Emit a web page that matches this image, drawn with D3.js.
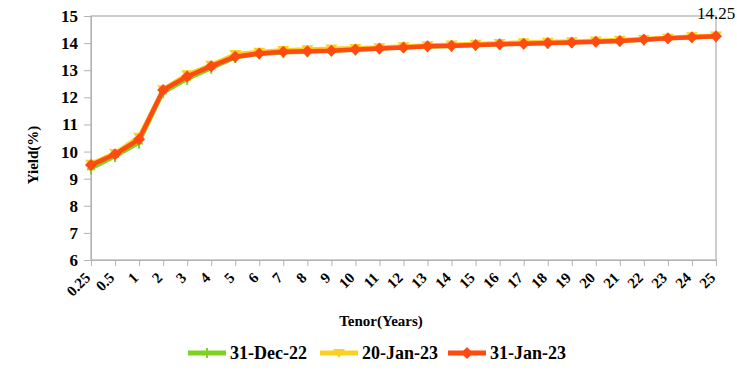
<!DOCTYPE html>
<html>
<head>
<meta charset="utf-8">
<script src="https://cdn.jsdelivr.net/npm/d3@7/dist/d3.min.js"></script>
<style>
  body { margin: 0; background: #fff; }
  svg text { font-family: "Liberation Serif", "Times New Roman", serif; font-weight: bold; fill: #000; }
</style>
</head>
<body>
<div id="chart"></div>
<script>
const tenors = ["0.25", "0.5", "1", "2", "3", "4", "5", "6", "7", "8", "9", "10", "11", "12",
  "13", "14", "15", "16", "17", "18", "19", "20", "21", "22", "23", "24", "25"];
const dec31 = [9.35, 9.8, 10.3, 12.15, 12.65, 13.05, 13.45, 13.58, 13.63, 13.66, 13.7, 13.73, 13.77,
  13.82, 13.85, 13.87, 13.9, 13.93, 13.96, 13.98, 14.0, 14.03, 14.06, 14.1, 14.15, 14.2, 14.22];
const jan20 = [9.55, 9.95, 10.55, 12.3, 12.85, 13.2, 13.6, 13.68, 13.75, 13.77, 13.8, 13.82, 13.85,
  13.88, 13.92, 13.95, 13.98, 14.0, 14.03, 14.05, 14.07, 14.1, 14.12, 14.15, 14.2, 14.25, 14.28];
const jan31 = [9.5, 9.9, 10.45, 12.27, 12.77, 13.15, 13.5, 13.62, 13.68, 13.7, 13.72, 13.76, 13.8,
  13.84, 13.88, 13.9, 13.93, 13.96, 13.98, 14.0, 14.02, 14.05, 14.08, 14.13, 14.18, 14.22, 14.25];
const yTicks = [6, 7, 8, 9, 10, 11, 12, 13, 14, 15];

const series = [
  { name: "31-Dec-22", values: dec31, color: "#7ed321", width: 3, marker: "plus" },
  { name: "20-Jan-23", values: jan20, color: "#fcd020", width: 4, marker: "tri" },
  { name: "31-Jan-23", values: jan31, color: "#ff4a12", width: 4.5, marker: "diamond" }
];

const W = 737, H = 390;
const margin = { top: 16, right: 21, bottom: 130, left: 91 };
const iw = W - margin.left - margin.right;
const ih = H - margin.top - margin.bottom;

const svg = d3.select("#chart").append("svg").attr("width", W).attr("height", H);
const g = svg.append("g").attr("transform", `translate(${margin.left},${margin.top})`);

const x = d3.scalePoint().domain(tenors).range([0, iw]).padding(0);
const y = d3.scaleLinear().domain([6, 15]).range([ih, 0]);

// plot frame
g.append("rect").attr("width", iw).attr("height", ih)
  .attr("fill", "none").attr("stroke", "#b3b3b3").attr("stroke-width", 1.3);

const yAxis = g.append("g").call(d3.axisLeft(y).tickValues(yTicks).tickSize(7).tickPadding(6));
yAxis.attr("font-family", null);
yAxis.select(".domain").attr("stroke", "#b3b3b3");
yAxis.selectAll(".tick line").attr("stroke", "#b3b3b3");
yAxis.selectAll("text").style("font-size", "17px");

const xAxis = g.append("g").attr("transform", `translate(0,${ih})`)
  .call(d3.axisBottom(x).tickSize(6).tickPadding(4));
xAxis.attr("font-family", null);
xAxis.select(".domain").attr("stroke", "#b3b3b3");
xAxis.selectAll(".tick line").attr("stroke", "#b3b3b3");
xAxis.selectAll("text").style("font-size", "15px")
  .attr("x", 0).attr("y", 0)
  .attr("text-anchor", "end").attr("dy", "0.35em")
  .attr("transform", "translate(-4,15) rotate(-45)");

// markers
function drawMarker(sel, type, color) {
  if (type === "diamond") {
    sel.append("path").attr("d", "M0,-6L6,0L0,6L-6,0Z").attr("fill", color);
  } else if (type === "tri") {
    sel.append("path").attr("d", "M-6,-4L6,-4L0,5Z").attr("fill", color);
  } else {
    sel.append("path").attr("d", "M-4,0H4M0,-5V5").attr("stroke", color).attr("stroke-width", 2);
  }
}

const line = d3.line().x((d, i) => x(tenors[i])).y(d => y(d));

series.forEach(s => {
  g.append("path").datum(s.values).attr("d", line)
    .attr("fill", "none").attr("stroke", s.color).attr("stroke-width", s.width)
    .attr("stroke-linejoin", "round");
  s.values.forEach((v, i) => {
    const m = g.append("g").attr("transform", `translate(${x(tenors[i])},${y(v)})`);
    drawMarker(m, s.marker, s.color);
  });
});

// end label
const last = jan31.length - 1;
g.append("text").attr("x", x(tenors[last])).attr("y", y(jan31[last]) - 17)
  .attr("text-anchor", "middle").style("font-size", "17px").style("font-weight", "normal")
  .text(jan31[last].toFixed(2));

// axis titles
svg.append("text").attr("x", 381).attr("y", 326)
  .attr("text-anchor", "middle").style("font-size", "15px").text("Tenor(Years)");
svg.append("text").attr("transform", `translate(38,155) rotate(-90)`)
  .attr("text-anchor", "middle").style("font-size", "15px").text("Yield(%)");

// legend
const legendX = [188, 320, 448];
series.forEach((s, i) => {
  const lg = svg.append("g").attr("transform", `translate(${legendX[i]},353)`);
  lg.append("line").attr("x1", 0).attr("x2", 38).attr("stroke", s.color).attr("stroke-width", 5);
  const m = lg.append("g").attr("transform", "translate(19,0)");
  drawMarker(m, s.marker, s.color);
  lg.append("text").attr("x", 42).attr("y", 6).style("font-size", "18px").text(s.name);
});
</script>
</body>
</html>
